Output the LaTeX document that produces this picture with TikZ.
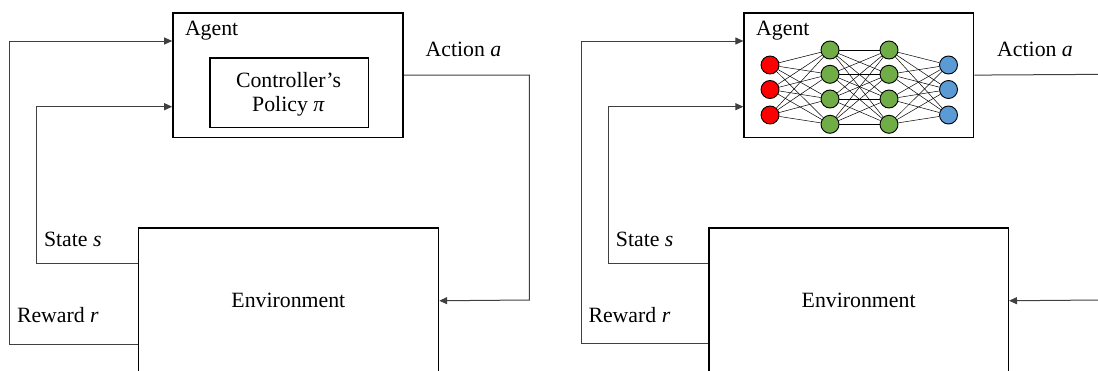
\documentclass[tikz,border=0pt]{standalone}
\usepackage{fontspec}
\setmainfont{Liberation Serif}
\usetikzlibrary{arrows.meta,calc}
\definecolor{nred}{HTML}{FF0000}
\definecolor{ngreen}{HTML}{70AD47}
\definecolor{nblue}{HTML}{5B9BD5}
\definecolor{conn}{HTML}{404040}
\begin{document}
\begin{tikzpicture}[x=1pt,y=-1pt,
  font=\fontsize{21.8}{26}\selectfont,
  box/.style={draw=black,line width=1.5pt,inner sep=0,anchor=north west},
  lbl/.style={inner sep=0,anchor=base west},
  flow/.style={draw=conn,line width=1pt},
  arr/.style={flow,-{Triangle[length=8pt,width=7pt]}},
  neuron/.style={circle,draw=black,line width=0.9pt,minimum size=18pt,inner sep=0},
  syn/.style={draw=black,line width=0.5pt}]
\useasboundingbox (0,0) rectangle (1098,370);
\clip (0,0) rectangle (1098,370);

% ---------- left panel ----------
\node[box,minimum width=230.1pt,minimum height=124.7pt] (agentL) at (172.2,12) {};
\node[box,minimum width=158.9pt,minimum height=69.4pt] (policy) at (209,57.3) {};
\node[box,minimum width=300.2pt,minimum height=146pt] (envL) at (137.5,227) {};
\node[inner sep=0] (envLtxt) at (envL.center) {Environment};
\node[lbl] (agentLtxt) at (184.8,35) {Agent};
\node[inner sep=0,anchor=base] (pol1) at (288.5,87.3) {Controller’s};
\node[inner sep=0,anchor=base] (pol2) at (288.5,111.7) {Policy \textit{π}};
\node[lbl] (actL) at (425.5,56.5) {Action \textit{a}};
\node[lbl] (stateL) at (43.8,246) {State \textit{s}};
\node[lbl] (rewL) at (16.8,322.3) {Reward \textit{r}};

\draw[arr] (agentL.east) -| (529.3,300) -- (envL.east);
\draw[arr] ($(envL.north west)+(0,36.3)$) -| (36.5,106.7) -- ($(agentL.north west)+(0,94.7)$);
\draw[arr] ($(envL.north west)+(0,117)$) -| (9.5,41) -- ($(agentL.north west)+(0,29)$);

% ---------- right panel ----------
\node[box,minimum width=229.4pt,minimum height=124.7pt] (agentR) at (743.4,12) {};
\node[box,minimum width=299.2pt,minimum height=146pt] (envR) at (708.3,227) {};
\node[inner sep=0] (envRtxt) at (envR.center) {Environment};
\node[lbl] (agentRtxt) at (756,35) {Agent};
\node[lbl] (actR) at (997,56.5) {Action \textit{a}};
\node[lbl] (stateR) at (615.7,246) {State \textit{s}};
\node[lbl] (rewR) at (588.3,322.3) {Reward \textit{r}};

\coordinate (actEnd) at (1100,74.35);
\coordinate (envIn) at (1100,300);
\draw[flow] (agentR.east) -- (actEnd);
\draw[arr] (envIn) -- (envR.east);
\draw[arr] ($(envR.north west)+(0,36.3)$) -| (608.3,106.7) -- ($(agentR.north west)+(0,94.7)$);
\draw[arr] ($(envR.north west)+(0,116.3)$) -| (581,41) -- ($(agentR.north west)+(0,29)$);

% neural network
\foreach \i/\y in {1/65,2/89.5,3/115} {
  \node[neuron,fill=nred] (r\i) at (770,\y) {};
  \node[neuron,fill=nblue] (b\i) at (948.5,\y) {};
}
\foreach \i/\y in {1/50,2/74.3,3/99,4/124.3} {
  \node[neuron,fill=ngreen] (g\i) at (830,\y) {};
  \node[neuron,fill=ngreen] (h\i) at (889,\y) {};
}
\foreach \a in {1,2,3} {
  \foreach \b in {1,2,3,4} {
    \draw[syn] (r\a) -- (g\b);
    \draw[syn] (h\b) -- (b\a);
  }
}
\foreach \a in {1,2,3,4} {
  \foreach \b in {1,2,3,4} {
    \draw[syn] (g\a) -- (h\b);
  }
}
\end{tikzpicture}
\end{document}
